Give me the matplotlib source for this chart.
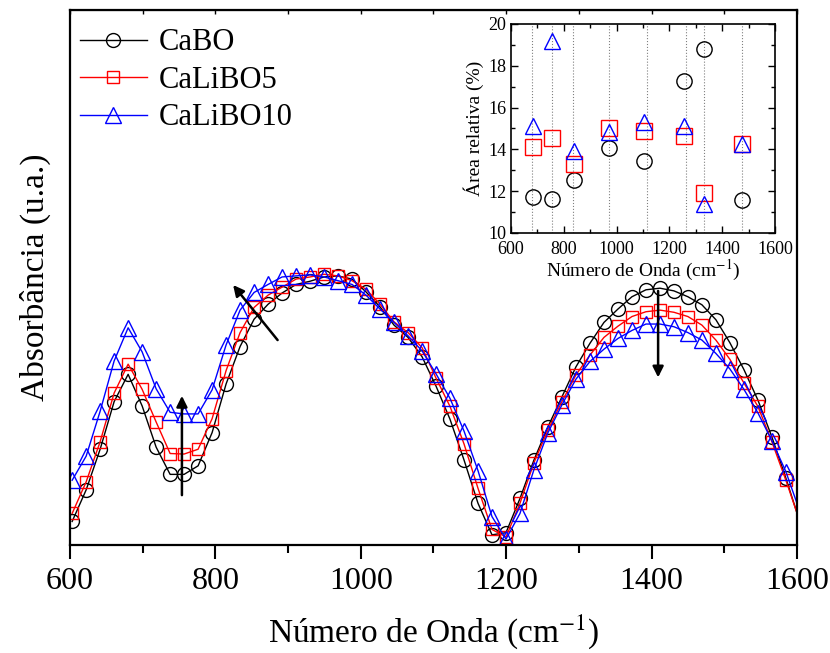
import matplotlib
matplotlib.use('Agg')
import matplotlib.pyplot as plt
import numpy as np
from matplotlib.ticker import MultipleLocator

plt.rcParams['font.family'] = ['Liberation Serif', 'DejaVu Serif']
plt.rcParams['mathtext.fontset'] = 'stix'

# ── main spectra: markers every ~19.25 cm-1 starting at 603 ───────────────
step = 19.25
x_start = 603.0
n_pts = 52

cabo = [0.044, 0.103, 0.179, 0.268, 0.319, 0.260, 0.183, 0.132, 0.132, 0.148,
        0.210, 0.301, 0.371, 0.422, 0.450, 0.471, 0.487, 0.493, 0.501, 0.503,
        0.497, 0.473, 0.445, 0.411, 0.388, 0.352, 0.297, 0.235, 0.159, 0.078,
        0.019, 0.023, 0.087, 0.159, 0.221, 0.277, 0.333, 0.377, 0.416, 0.441,
        0.464, 0.477, 0.480, 0.475, 0.464, 0.449, 0.421, 0.378, 0.328, 0.271,
        0.202, 0.125]
calibo5 = [0.059, 0.118, 0.193, 0.284, 0.338, 0.291, 0.230, 0.171, 0.170, 0.179,
           0.236, 0.326, 0.397, 0.444, 0.467, 0.482, 0.497, 0.501, 0.506, 0.503,
           0.494, 0.478, 0.450, 0.417, 0.397, 0.369, 0.312, 0.259, 0.189, 0.106,
           0.029, 0.015, 0.078, 0.154, 0.215, 0.268, 0.318, 0.355, 0.388, 0.409,
           0.427, 0.436, 0.439, 0.435, 0.427, 0.411, 0.383, 0.347, 0.303, 0.259,
           0.193, 0.121]
calibo10 = [0.121, 0.166, 0.250, 0.344, 0.406, 0.361, 0.292, 0.248, 0.245, 0.245,
            0.290, 0.374, 0.439, 0.472, 0.487, 0.501, 0.503, 0.505, 0.501, 0.494,
            0.487, 0.467, 0.441, 0.416, 0.391, 0.363, 0.320, 0.274, 0.213, 0.139,
            0.053, 0.011, 0.059, 0.141, 0.210, 0.262, 0.310, 0.343, 0.366, 0.386,
            0.401, 0.413, 0.413, 0.408, 0.397, 0.383, 0.358, 0.329, 0.291, 0.247,
            0.195, 0.137]
# values where the lines leave the frame at 1600 cm-1
end_vals = [0.060, 0.060, 0.078]

# ── inset: relative areas ───────────────────────────────────────────────
band_x = [682, 756, 839, 971, 1104, 1254, 1332, 1475]
band_lines = [678, 757, 836, 972, 1114, 1262, 1331, 1476]
area_cabo = [11.72, 11.64, 12.55, 14.06, 13.46, 17.28, 18.79, 11.59]
area_calibo5 = [14.09, 14.54, 13.30, 15.02, 14.89, 14.62, 11.91, 14.25]
area_calibo10 = [15.11, 19.19, 13.93, 14.81, 15.29, 15.14, 11.39, 14.28]

names = ['CaBO', 'CaLiBO5', 'CaLiBO10']
colors = ['black', 'red', 'blue']
markers = ['o', 's', '^']
msizes = [10, 9, 11]

x = x_start + step * np.arange(n_pts)

fig = plt.figure(figsize=(8.3, 6.53), dpi=100)
ax = fig.add_axes([0.0843, 0.1654, 0.8759, 0.8193])

for ys, ye, name, c, m, ms in zip([cabo, calibo5, calibo10], end_vals,
                                   names, colors, markers, msizes):
    xx = np.append(x, 1600)
    yy = np.append(ys, ye)
    ax.plot(xx, yy, color=c, lw=1.0, marker=m, ms=ms, mfc='none', mec=c,
            mew=1.0, markevery=list(range(n_pts)), label=name)

ax.set_xlim(600, 1600)
ax.set_ylim(0, 1)
ax.xaxis.set_major_locator(MultipleLocator(200))
ax.xaxis.set_minor_locator(MultipleLocator(100))
ax.set_yticks([])
ax.tick_params(axis='x', which='major', direction='out', length=10, width=1.5,
               labelsize=23, pad=6)
ax.tick_params(axis='x', which='minor', direction='out', length=6, width=1.5)
for s in ax.spines.values():
    s.set_linewidth(1.6)

# short inward ticks on the top spine
top = ax.secondary_xaxis('top')
top.xaxis.set_major_locator(MultipleLocator(100))
top.tick_params(direction='in', length=3, width=1.0, labeltop=False)

ax.set_xlabel('Número de Onda (cm$^{-1}$)', fontsize=24, labelpad=12)
ax.set_ylabel('Absorbância (u.a.)', fontsize=24, labelpad=14)

# arrows
arrow_kw = dict(arrowstyle='-|>', color='black', lw=1.8, mutation_scale=16)
ax.annotate('', xy=(754, 0.284), xytext=(754, 0.088), arrowprops=arrow_kw)
ax.annotate('', xy=(822, 0.490), xytext=(888, 0.379), arrowprops=arrow_kw)
ax.annotate('', xy=(1409, 0.308), xytext=(1409, 0.480), arrowprops=arrow_kw)

ax.legend(loc='upper left', frameon=False, fontsize=22, numpoints=1,
          handlelength=2.2, handletextpad=0.4, labelspacing=0.28,
          borderaxespad=0.2, bbox_to_anchor=(-0.012, 1.0))

# ── inset ───────────────────────────────────────────────────────────────
ins = fig.add_axes([0.6157, 0.6432, 0.3181, 0.3201])
for bx in band_lines:
    ins.axvline(bx, color='gray', lw=0.8, ls=':', zorder=1)
for ys, name, c, m in zip([area_cabo, area_calibo5, area_calibo10],
                          names, colors, markers):
    ins.plot(band_x, ys, ls='none', marker=m, ms=11, mfc='none', mec=c,
             mew=1.0, zorder=3)
ins.set_xlim(600, 1600)
ins.set_ylim(10, 20)
ins.xaxis.set_major_locator(MultipleLocator(200))
ins.xaxis.set_minor_locator(MultipleLocator(100))
ins.yaxis.set_major_locator(MultipleLocator(2))
ins.yaxis.set_minor_locator(MultipleLocator(1))
ins.tick_params(which='both', direction='in', top=True, right=True,
                labelsize=13, width=1.0)
ins.tick_params(which='major', length=5)
ins.tick_params(which='minor', length=3)
ins.tick_params(axis='x', pad=6)
for s in ins.spines.values():
    s.set_linewidth(1.2)
ins.set_xlabel('Número de Onda (cm$^{-1}$)', fontsize=14, labelpad=0)
ins.set_ylabel('Área relativa (%)', fontsize=14, labelpad=3)

fig.savefig('out.png', dpi=100, facecolor='white')
